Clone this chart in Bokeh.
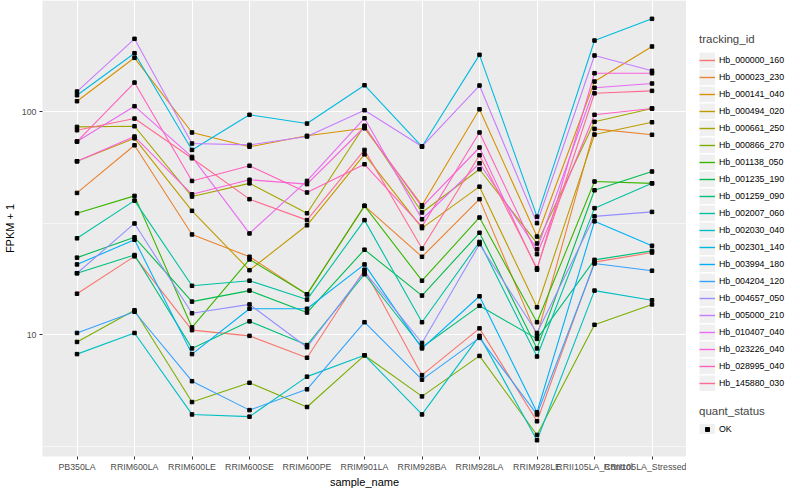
from bokeh.plotting import figure
from bokeh.layouts import row
from bokeh.models import (ColumnDataSource, Range1d, FixedTicker, Legend, LegendItem,
                          PrintfTickFormatter)
from bokeh.embed import file_html
from bokeh.resources import INLINE

# ---------------- data ----------------
samples = ["PB350LA", "RRIM600LA", "RRIM600LE", "RRIM600SE", "RRIM600PE", "RRIM901LA",
           "RRIM928BA", "RRIM928LA", "RRIM928LE", "RRII105LA_Control", "RRII105LA_Stressed"]

tracking_ids = ["Hb_000000_160", "Hb_000023_230", "Hb_000141_040", "Hb_000494_020",
                "Hb_000661_250", "Hb_000866_270", "Hb_001138_050", "Hb_001235_190",
                "Hb_001259_090", "Hb_002007_060", "Hb_002030_040", "Hb_002301_140",
                "Hb_003994_180", "Hb_004204_120", "Hb_004657_050", "Hb_005000_210",
                "Hb_010407_040", "Hb_023226_040", "Hb_028995_040", "Hb_145880_030"]

series_colors = ["#F8766D", "#EA8331", "#D89000", "#C09B00", "#A3A500", "#7CAE00", "#39B600",
                 "#00BB4E", "#00BF7D", "#00C1A3", "#00BFC4", "#00BAE0", "#00B0F6", "#35A2FF",
                 "#9590FF", "#C77CFF", "#E76BF3", "#FA62DB", "#FF62BC", "#FF6C91"]

fpkm_000000_160 = [15.3, 22.5, 10.5, 9.9, 7.9, 19.6, 6.6, 10.7, 4.1, 21.2, 23.4]
fpkm_000023_230 = [43.3, 70.8, 28.2, 22.4, 15.2, 37.9, 22.4, 40.6, 9.9, 83.9, 78.9]
fpkm_000141_040 = [111.6, 174.7, 80.8, 69.7, 78.1, 84.4, 38.1, 102.7, 27.6, 136.7, 196.3]
fpkm_000494_020 = [60.0, 76.1, 36.0, 19.5, 31.0, 64.5, 30.1, 46.2, 13.3, 79.1, 89.8]
fpkm_000661_250 = [85.6, 86.2, 41.7, 47.8, 35.1, 86.6, 35.4, 55.3, 25.7, 90.2, 103.5]
fpkm_000866_270 = [9.3, 12.9, 5.0, 6.1, 4.75, 8.1, 5.3, 8.05, 3.56, 11.1, 13.7]
fpkm_001138_050 = [35.1, 42.0, 10.8, 21.8, 15.2, 37.9, 17.5, 33.6, 11.4, 48.7, 47.8]
fpkm_001235_190 = [22.2, 27.4, 14.1, 15.8, 12.6, 24.1, 15.0, 28.7, 8.7, 44.5, 54.0]
fpkm_001259_090 = [18.9, 22.8, 8.7, 11.5, 9.0, 18.7, 8.8, 13.5, 9.6, 21.7, 23.8]
fpkm_002007_060 = [27.1, 40.0, 16.6, 17.5, 14.4, 32.7, 11.4, 26.1, 8.0, 37.0, 47.8]
fpkm_002030_040 = [8.2, 10.2, 4.4, 4.3, 6.5, 8.1, 4.4, 9.9, 3.37, 15.8, 14.3]
fpkm_002301_140 = [118.7, 183.2, 67.5, 97.0, 88.6, 131.6, 69.9, 180.1, 33.9, 208.8, 261.2]
fpkm_003994_180 = [20.7, 26.7, 8.2, 13.1, 13.1, 20.7, 8.7, 14.9, 4.5, 32.3, 25.1]
fpkm_004204_120 = [10.2, 12.7, 6.2, 4.6, 5.7, 11.4, 6.3, 9.7, 4.4, 20.9, 19.4]
fpkm_004657_050 = [18.9, 31.6, 12.5, 13.7, 8.8, 19.2, 9.2, 25.5, 10.2, 34.0, 35.6]
fpkm_005000_210 = [123.3, 212.5, 72.1, 71.1, 77.5, 101.7, 69.9, 131.2, 31.7, 178.9, 152.7]
fpkm_010407_040 = [73.6, 106.0, 62.8, 28.5, 49.0, 93.6, 33.0, 58.8, 24.2, 128.2, 134.0]
fpkm_023226_040 = [60.0, 77.5, 42.7, 49.6, 47.4, 85.5, 37.5, 69.2, 19.6, 149.0, 149.0]
fpkm_028995_040 = [73.6, 135.3, 49.0, 57.3, 43.5, 58.2, 30.6, 80.8, 23.0, 97.0, 103.5]
fpkm_145880_030 = [82.7, 93.3, 61.9, 40.6, 32.7, 67.5, 24.4, 63.9, 19.9, 121.1, 124.2]

quant_status = "OK"

y_major_ticks = [10, 100]
y_minor_ticks = [3.162, 31.62, 316.2]

all_series = [fpkm_000000_160, fpkm_000023_230, fpkm_000141_040, fpkm_000494_020,
              fpkm_000661_250, fpkm_000866_270, fpkm_001138_050, fpkm_001235_190,
              fpkm_001259_090, fpkm_002007_060, fpkm_002030_040, fpkm_002301_140,
              fpkm_003994_180, fpkm_004204_120, fpkm_004657_050, fpkm_005000_210,
              fpkm_010407_040, fpkm_023226_040, fpkm_028995_040, fpkm_145880_030]

# ---------------- main figure ----------------
FONT = "Liberation Sans"
x_pos = list(range(1, len(samples) + 1))

p = figure(frame_width=644, frame_height=456,
           x_range=Range1d(0.4, len(samples) + 0.6),
           y_range=Range1d(2.85, 315.6), y_axis_type="log",
           output_backend="svg", toolbar_location=None,
           min_border_left=32, min_border_right=0, min_border_top=0, min_border_bottom=0)

p.background_fill_color = "#EBEBEB"
p.border_fill_color = "white"
p.outline_line_color = None

xt = FixedTicker(ticks=x_pos)
yt = FixedTicker(ticks=y_major_ticks, minor_ticks=y_minor_ticks)
p.xaxis.ticker = xt
p.xgrid.ticker = xt
p.yaxis.ticker = yt
p.ygrid.ticker = yt
p.xaxis.major_label_overrides = {i: s for i, s in zip(x_pos, samples)}
p.yaxis.formatter = PrintfTickFormatter(format="%d")

p.xgrid.grid_line_color = "white"
p.xgrid.grid_line_width = 1.1
p.ygrid.grid_line_color = "white"
p.ygrid.grid_line_width = 1.1
p.ygrid.minor_grid_line_color = "white"
p.ygrid.minor_grid_line_width = 0.55

for ax in (p.xaxis, p.yaxis):
    ax.axis_line_color = None
    ax.major_tick_line_color = "#333333"
    ax.major_tick_out = 3
    ax.major_tick_in = 0
    ax.minor_tick_line_color = None
    ax.major_label_text_font = FONT
    ax.major_label_text_font_size = "8.8px"
    ax.major_label_text_color = "#4D4D4D"
    ax.major_label_standoff = 2
    ax.axis_label_text_font = FONT
    ax.axis_label_text_font_size = "11px"
    ax.axis_label_text_font_style = "normal"
    ax.axis_label_text_color = "black"

p.xaxis.axis_label = "sample_name"
p.yaxis.axis_label = "FPKM + 1"
p.xaxis.axis_label_standoff = 1
p.yaxis.axis_label_standoff = 3

# ---------------- legend panel (separate figure to the right) ----------------
lf = figure(width=108, height=480, x_range=Range1d(0, 1), y_range=Range1d(0, 1),
            output_backend="svg", toolbar_location=None,
            x_axis_location=None, y_axis_location=None,
            min_border_left=0, min_border_right=0, min_border_top=0, min_border_bottom=0)
lf.outline_line_color = None
lf.grid.visible = False
lf.background_fill_color = "white"
lf.border_fill_color = "white"

# ---------------- lines ----------------
items = []
for tid, col, vals in zip(tracking_ids, series_colors, all_series):
    src = ColumnDataSource(dict(x=x_pos, y=vals))
    p.line("x", "y", source=src, line_color=col, line_width=1.1)
    bg = lf.line("x", "y", source=src, line_color="#F0F0F0", line_width=16, visible=False)
    kl = lf.line("x", "y", source=src, line_color=col, line_width=1.4, visible=False)
    items.append(LegendItem(label=tid, renderers=[bg, kl]))

# ---------------- points ----------------
px, py = [], []
for vals in all_series:
    px.extend(x_pos)
    py.extend(vals)
psrc = ColumnDataSource(dict(x=px, y=py))
p.scatter("x", "y", source=psrc, marker="square", size=3.5, color="black")
pbg = lf.line("x", "y", source=psrc, line_color="#F0F0F0", line_width=16, visible=False)
ppt = lf.scatter("x", "y", source=psrc, marker="square", size=3.5, color="black", visible=False)

# ---------------- legends ----------------
leg1 = Legend(items=items, title="tracking_id", location=(13, 55),
              glyph_width=16, glyph_height=16, label_height=16, spacing=1,
              padding=0, margin=0, label_standoff=4,
              border_line_color=None, background_fill_alpha=0,
              title_text_font=FONT, title_text_font_size="11.5px",
              title_text_font_style="normal", title_standoff=7,
              label_text_font=FONT, label_text_font_size="8.8px", label_text_color="black")
lf.add_layout(leg1)

leg2 = Legend(items=[LegendItem(label=quant_status, renderers=[pbg, ppt])],
              title="quant_status", location=(13, 12),
              glyph_width=16, glyph_height=10, label_height=10, spacing=1,
              padding=0, margin=0, label_standoff=4,
              border_line_color=None, background_fill_alpha=0,
              title_text_font=FONT, title_text_font_size="11.5px",
              title_text_font_style="normal", title_standoff=7,
              label_text_font=FONT, label_text_font_size="8.8px", label_text_color="black")
lf.add_layout(leg2)

layout = row(p, lf)
open("out.html", "w").write(file_html(layout, INLINE, title="FPKM"))
